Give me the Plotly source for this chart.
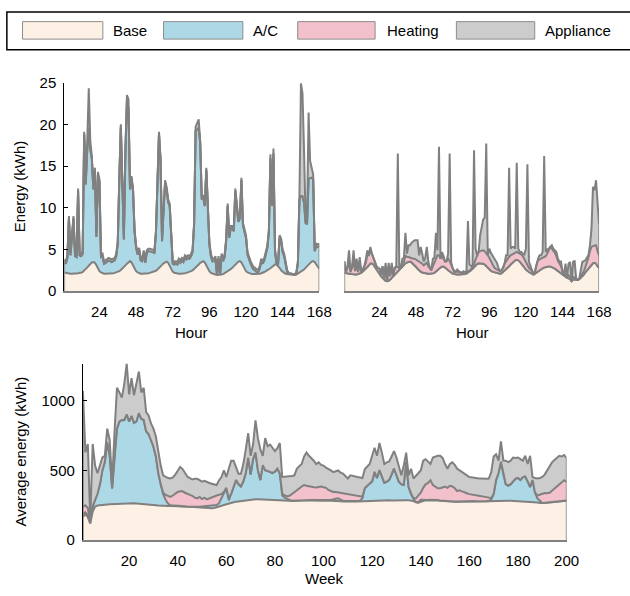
import plotly.graph_objects as go

# ---------------- data ----------------
hours = list(range(1, 169))
weeks = list(range(1, 201))

# Top-left (summer week): stacked levels
summer_base = [
    2.25, 2.2, 2.15, 2.15, 2.1, 2.1, 2.1, 2.1, 2.15, 2.15, 2.2, 2.2,
    2.3, 2.45, 2.65, 2.85, 3.05, 3.25, 3.45, 3.5, 3.4, 3.1, 2.7, 2.4,
    2.25, 2.15, 2.1, 2.1, 2.1, 2.1, 2.1, 2.15, 2.15, 2.2, 2.25, 2.3,
    2.4, 2.55, 2.7, 2.9, 3.1, 3.3, 3.5, 3.6, 3.45, 3.1, 2.7, 2.4,
    2.25, 2.15, 2.1, 2.1, 2.1, 2.1, 2.1, 2.15, 2.2, 2.25, 2.3, 2.35,
    2.45, 2.6, 2.75, 2.95, 3.15, 3.35, 3.5, 3.55, 3.4, 3.05, 2.65, 2.35,
    2.2, 2.15, 2.1, 2.1, 2.1, 2.1, 2.1, 2.15, 2.2, 2.25, 2.3, 2.4,
    2.5, 2.65, 2.8, 3.0, 3.2, 3.4, 3.55, 3.6, 3.45, 3.1, 2.7, 2.4,
    2.2, 2.1, 2.05, 2.0, 1.95, 1.95, 1.95, 2.0, 2.05, 2.15, 2.25, 2.35,
    2.5, 2.65, 2.8, 3.0, 3.2, 3.4, 3.55, 3.6, 3.45, 3.1, 2.7, 2.4,
    2.25, 2.15, 2.1, 2.05, 2.05, 2.05, 2.05, 2.1, 2.1, 2.15, 2.2, 2.3,
    2.4, 2.5, 2.6, 2.75, 2.9, 3.05, 3.2, 3.2, 3.05, 2.8, 2.5, 2.3,
    2.2, 2.1, 2.05, 2.0, 2.0, 2.0, 1.95, 1.95, 2.0, 2.1, 2.2, 2.3,
    2.45, 2.6, 2.8, 3.0, 3.2, 3.4, 3.55, 3.6, 3.5, 3.2, 2.9, 2.7,
]
summer_total = [
    3.8, 3.6, 4.3, 9.0, 4.6, 6.5, 9.0, 4.5, 4.4, 12.3, 4.6, 4.5,
    4.8, 19.1, 13.1, 17.9, 24.3, 18.0, 16.2, 12.5, 14.8, 6.8, 14.3, 13.4,
    4.4, 4.5, 3.6, 3.7, 3.9, 4.0, 3.9, 3.8, 3.9, 4.0, 4.5, 6.0,
    13.6, 20.0, 13.2, 6.5, 17.0, 23.5, 23.0, 12.5, 13.8, 12.3, 7.4, 5.5,
    4.7, 5.2, 4.0, 3.9, 4.9, 3.7, 4.9, 5.1, 5.1, 5.0, 4.9, 4.9,
    7.2, 14.0, 19.1, 16.0, 6.3, 10.0, 13.3, 12.5, 11.0, 10.5, 6.0, 3.6,
    3.5, 3.6, 3.5, 3.9, 3.7, 4.0, 3.8, 4.3, 4.1, 4.3, 4.2, 4.5,
    5.0, 8.2, 19.7, 20.2, 20.6, 18.0, 11.3, 11.5, 10.5, 14.8, 10.1, 5.9,
    4.5, 3.9, 3.9, 4.2, 2.0, 4.2, 2.0, 4.5, 3.9, 4.4, 6.3, 10.5,
    6.7, 7.8, 7.8, 7.5, 12.3, 10.5, 8.6, 9.0, 13.6, 8.2, 7.5, 6.7,
    4.7, 4.0, 3.6, 3.2, 2.9, 2.8, 2.6, 2.6, 3.0, 3.9, 3.6, 4.0,
    4.7, 5.5, 7.4, 16.4, 10.5, 17.1, 5.1, 3.3, 3.3, 6.7, 6.3, 5.0,
    4.5, 3.5, 2.5, 2.2, 2.1, 2.1, 2.0, 2.0, 2.3, 3.6, 11.3, 24.9,
    23.7, 17.1, 9.0, 8.6, 21.4, 15.6, 14.8, 14.0, 5.1, 5.7, 5.6, 5.7,
]
summer_appliance = [
    0.3, 0.3, 0.3, 0.3, 0.3, 0.3, 0.3, 0.3, 0.3, 0.3, 0.3, 0.3,
    0.3, 0.3, 0.3, 1.0, 4.8, 1.0, 0.3, 0.3, 0.3, 0.3, 0.3, 0.3,
    0.3, 0.3, 0.3, 0.3, 0.3, 0.3, 0.3, 0.3, 0.3, 0.3, 0.3, 0.3,
    0.3, 0.3, 0.3, 0.3, 0.3, 0.8, 1.0, 0.3, 0.3, 0.3, 0.3, 0.3,
    0.3, 0.3, 0.3, 0.3, 0.3, 0.3, 0.3, 0.3, 0.3, 0.3, 0.3, 0.3,
    0.3, 0.3, 0.3, 0.3, 0.3, 0.3, 0.3, 0.3, 0.3, 0.3, 0.3, 0.3,
    0.3, 0.3, 0.3, 0.3, 0.3, 0.3, 0.3, 0.3, 0.3, 0.3, 0.3, 0.3,
    0.3, 0.3, 0.5, 0.8, 1.0, 0.3, 0.3, 0.3, 0.3, 0.3, 0.3, 0.3,
    0.3, 0.3, 0.3, 0.3, 0.0, 0.3, 0.0, 0.3, 0.3, 0.3, 0.3, 0.3,
    0.3, 0.3, 0.3, 0.3, 0.3, 0.3, 0.3, 0.3, 0.3, 0.3, 0.3, 0.3,
    0.3, 0.3, 0.3, 0.3, 0.3, 0.3, 0.3, 0.3, 0.3, 0.3, 0.3, 0.3,
    0.3, 0.3, 0.3, 0.5, 0.3, 0.6, 0.3, 0.05, 0.1, 0.3, 0.3, 0.3,
    0.3, 0.3, 0.2, 0.1, 0.0, 0.0, 0.0, 0.0, 0.1, 0.3, 0.3, 13.5,
    12.3, 6.5, 0.8, 0.6, 7.9, 2.0, 1.2, 0.6, 0.3, 0.3, 0.3, 0.3,
]

# Top-right (winter week)
winter_base = [
    2.2, 2.15, 2.1, 2.1, 2.05, 2.05, 2.0, 2.0, 2.0, 2.05, 2.1, 2.2,
    2.35, 2.5, 2.7, 2.9, 3.1, 3.3, 3.35, 3.2, 2.9, 2.6, 2.3, 2.0,
    1.8, 1.6, 1.4, 1.25, 1.2, 1.25, 1.4, 1.6, 1.8, 2.0, 2.2, 2.4,
    2.6, 2.8, 3.0, 3.2, 3.35, 3.45, 3.55, 3.55, 3.45, 3.3, 3.1, 2.9,
    2.7, 2.5, 2.35, 2.25, 2.2, 2.15, 2.1, 2.1, 2.1, 2.1, 2.15, 2.2,
    2.3, 2.5, 2.7, 2.85, 2.95, 2.95, 2.85, 2.7, 2.5, 2.35, 2.2, 2.1,
    2.05, 2.0, 2.0, 2.0, 2.0, 2.0, 2.0, 2.05, 2.1, 2.2, 2.35, 2.5,
    2.7, 2.9, 3.1, 3.25, 3.35, 3.35, 3.35, 3.3, 3.2, 3.0, 2.8, 2.6,
    2.45, 2.35, 2.3, 2.25, 2.2, 2.1, 2.1, 2.15, 2.3, 2.45, 2.6, 2.8,
    3.0, 3.2, 3.4, 3.55, 3.7, 3.75, 3.7, 3.55, 3.35, 3.1, 2.85, 2.6,
    2.4, 2.3, 2.2, 2.1, 2.0, 2.1, 2.25, 2.4, 2.55, 2.65, 2.75, 2.85,
    2.9, 2.95, 2.95, 2.95, 2.9, 2.8, 2.7, 2.55, 2.4, 2.25, 2.1, 2.0,
    1.85, 1.7, 1.6, 1.55, 1.45, 1.2, 1.4, 1.4, 1.35, 1.35, 1.45, 1.6,
    1.8, 2.0, 2.25, 2.5, 2.75, 3.0, 3.2, 3.35, 3.4, 3.3, 3.0, 2.8,
]
winter_heat_top = [
    2.8, 2.3, 2.8, 3.5, 2.3, 2.8, 3.6, 2.4, 3.2, 2.3, 3.4, 2.4,
    2.5, 2.9, 3.4, 4.3, 4.3, 4.8, 4.5, 4.0, 3.4, 3.0, 2.8, 2.7,
    2.0, 3.0, 1.4, 3.0, 1.2, 3.0, 1.8, 3.0, 1.9, 2.8, 2.9, 2.9,
    2.8, 2.8, 3.3, 3.5, 4.3, 4.1, 4.1, 4.0, 3.9, 3.9, 3.9, 3.8,
    3.7, 3.5, 3.4, 3.3, 3.1, 3.2, 3.4, 3.0, 2.7, 2.5, 3.0, 3.5,
    4.0, 4.3, 4.3, 3.9, 4.2, 3.9, 3.55, 3.6, 3.9, 3.6, 3.2, 2.6,
    2.3, 2.3, 2.4, 2.3, 2.2, 2.2, 2.3, 2.2, 2.3, 2.4, 2.6, 2.6,
    2.9, 3.2, 3.8, 4.2, 4.7, 4.8, 4.9, 4.9, 4.8, 4.6, 4.3, 4.0,
    3.6, 3.2, 2.9, 2.7, 2.6, 2.6, 2.4, 2.5, 2.8, 3.3, 3.6, 3.9,
    4.1, 4.3, 4.4, 4.5, 4.6, 4.7, 4.6, 4.5, 4.4, 4.2, 3.8, 3.4,
    3.1, 2.8, 2.6, 2.4, 2.0, 2.4, 3.2, 3.7, 3.8, 3.9, 3.9, 4.0,
    4.2, 4.5, 4.9, 5.3, 5.1, 4.9, 4.6, 4.2, 3.6, 3.35, 3.0, 2.4,
    2.0, 2.0, 1.7, 1.9, 1.7, 1.2, 1.7, 1.6, 1.4, 1.4, 1.5, 1.8,
    2.1, 2.4, 2.9, 3.4, 4.0, 4.8, 5.3, 5.4, 5.5, 5.5, 4.8, 4.3,
]
winter_total = [
    3.6, 2.4, 3.0, 4.9, 2.4, 3.0, 4.9, 2.5, 3.9, 2.4, 4.1, 2.5,
    2.6, 3.0, 3.8, 4.9, 4.3, 5.3, 4.5, 4.0, 3.4, 3.0, 2.8, 2.7,
    2.0, 3.0, 1.4, 3.4, 1.2, 3.4, 1.8, 3.4, 1.9, 2.8, 3.0, 16.5,
    2.8, 2.8, 3.9, 4.0, 7.0, 4.5, 5.5, 5.5, 5.8, 6.0, 6.1, 6.1,
    6.1, 4.3, 5.3, 4.5, 3.55, 4.0, 5.3, 3.55, 2.8, 2.6, 3.9, 4.0,
    7.0, 4.9, 17.3, 3.9, 4.7, 4.2, 3.55, 3.6, 4.5, 16.5, 3.4, 2.8,
    2.4, 2.4, 2.6, 2.4, 2.3, 2.2, 2.4, 2.3, 2.4, 8.4, 3.2, 3.0,
    2.9, 16.9, 5.1, 4.3, 4.7, 6.7, 7.5, 8.6, 8.8, 17.7, 4.3, 5.1,
    4.6, 4.3, 4.1, 3.7, 3.4, 2.8, 2.4, 2.5, 2.8, 3.3, 4.3, 4.3,
    14.8, 5.1, 5.3, 5.3, 5.1, 15.4, 5.1, 4.7, 4.7, 4.5, 4.4, 5.1,
    15.2, 3.55, 3.0, 2.6, 2.0, 2.4, 3.2, 3.9, 4.3, 4.3, 4.7, 16.2,
    4.7, 5.0, 5.1, 5.3, 5.5, 5.1, 4.9, 4.7, 3.9, 3.55, 3.55, 2.4,
    2.0, 3.3, 1.7, 3.3, 3.5, 1.2, 3.55, 3.6, 1.4, 1.4, 1.5, 2.5,
    3.5, 3.6, 3.7, 4.0, 4.3, 5.5, 7.4, 12.5, 12.1, 13.3, 10.5, 8.0,
]

# Bottom (weekly averages): stacked levels
week_base = [
    167, 186, 165, 118, 205, 240, 248, 251, 253, 255,
    256, 257, 258, 259, 260, 261, 262, 264, 266, 267,
    266, 265, 263, 262, 260, 258, 256, 255, 253, 252,
    250, 248, 246, 245, 244, 244, 244, 245, 244, 243,
    242, 242, 241, 240, 239, 238, 237, 235, 233, 232,
    230, 229, 228, 228, 230, 234, 240, 246, 252, 258,
    264, 268, 272, 275, 278, 281, 284, 286, 288, 290,
    292, 294, 293, 292, 291, 290, 290, 289, 288, 287,
    285, 283, 280, 279, 279, 278, 279, 280, 282, 284,
    285, 286, 286, 285, 284, 283, 284, 285, 284, 283,
    284, 284, 283, 282, 281, 280, 279, 278, 277, 276,
    275, 276, 277, 278, 279, 280, 281, 282, 283, 284,
    285, 286, 286, 287, 287, 286, 286, 285, 286, 286,
    287, 286, 285, 286, 286, 285, 280, 272, 268, 275,
    282, 285, 286, 287, 288, 287, 285, 283, 281, 280,
    279, 278, 277, 276, 276, 277, 278, 279, 280, 280,
    279, 278, 277, 276, 276, 277, 278, 279, 280, 281,
    281, 282, 282, 283, 283, 282, 282, 281, 281, 280,
    280, 279, 279, 278, 277, 276, 274, 270, 266, 265,
    266, 268, 270, 272, 274, 276, 278, 280, 282, 283,
]
week_ac_top = [
    190, 200, 180, 125, 235, 290, 330, 400, 500, 560,
    700, 610, 370, 600, 800, 850, 860, 860, 900, 850,
    890, 840, 850, 910, 870, 860, 780, 760, 720, 670,
    600, 480, 400, 330, 290, 262, 250, 248, 246, 245,
    244, 244, 243, 242, 241, 240, 239, 240, 240, 242,
    244, 246, 248, 250, 248, 252, 265, 300, 340, 372,
    285, 330, 380, 430, 400, 384, 420, 480, 590, 470,
    580, 628, 500, 430, 535, 500, 495, 488, 480, 490,
    512, 477, 320, 305, 295, 288, 282, 283, 285, 288,
    289, 290, 290, 289, 288, 287, 288, 289, 288, 287,
    288, 288, 288, 290, 297, 300, 290, 282, 280, 279,
    278, 279, 280, 281, 283, 300, 372, 390, 405, 420,
    488, 445, 500, 455, 410, 418, 430, 470, 512, 465,
    418, 400, 395, 560, 380, 330, 295, 275, 270, 290,
    288, 287, 288, 289, 290, 289, 287, 285, 283, 282,
    281, 280, 279, 278, 278, 279, 280, 281, 282, 282,
    281, 280, 279, 278, 278, 279, 280, 281, 290, 330,
    430, 480, 560, 470, 400, 390, 400, 420, 440, 445,
    430, 450, 455, 420, 380, 430, 340, 300, 280, 267,
    268, 270, 272, 274, 276, 278, 280, 282, 284, 285,
]
week_heat_top = [
    240, 250, 230, 140, 245, 295, 332, 402, 502, 562,
    702, 612, 372, 602, 802, 852, 862, 862, 902, 852,
    892, 842, 852, 912, 872, 862, 782, 762, 722, 672,
    602, 482, 402, 340, 325, 315, 310, 320, 335, 345,
    350, 350, 340, 330, 325, 318, 305, 300, 310, 295,
    305, 292, 300, 305, 312, 320, 325, 330, 345, 375,
    300, 332, 382, 432, 402, 386, 422, 482, 592, 472,
    582, 630, 502, 432, 537, 502, 497, 490, 482, 492,
    514, 479, 335, 320, 315, 318, 330, 340, 355, 370,
    385, 395, 390, 385, 384, 380, 378, 382, 384, 380,
    375, 360, 350, 345, 345, 342, 338, 335, 330, 328,
    326, 325, 322, 318, 315, 312, 374, 392, 407, 422,
    490, 447, 502, 457, 412, 420, 432, 472, 514, 467,
    420, 402, 397, 562, 382, 335, 300, 300, 320, 340,
    375, 400, 410, 430, 395, 380, 372, 372, 378, 384,
    375, 390, 385, 372, 352, 358, 350, 340, 336, 330,
    326, 322, 318, 316, 315, 312, 310, 305, 300, 332,
    432, 482, 562, 472, 402, 392, 402, 422, 442, 447,
    432, 452, 457, 422, 382, 432, 342, 320, 325, 335,
    338, 337, 340, 355, 370, 390, 405, 420, 430, 418,
]
week_total = [
    1070, 630, 690, 145, 690, 535, 480, 535, 593, 605,
    800, 720, 410, 780, 1093, 1060, 1023, 1120, 1267, 1046,
    1162, 1040, 1116, 1209, 1060, 1093, 918, 895, 837, 800,
    744, 628, 535, 465, 453, 445, 442, 450, 470, 495,
    525, 510, 480, 455, 445, 435, 440, 440, 430, 420,
    425, 415, 410, 405, 400, 395, 430, 453, 500, 453,
    512, 570, 570, 520, 477, 477, 546, 651, 767, 605,
    686, 860, 732, 651, 605, 732, 674, 686, 663, 639,
    660, 697, 453, 455, 455, 455, 460, 465, 512, 530,
    546, 600, 628, 605, 590, 570, 546, 558, 540, 535,
    520, 512, 500, 488, 495, 500, 485, 477, 460, 442,
    465, 460, 453, 453, 450, 446, 510, 530, 546, 605,
    663, 605, 697, 628, 546, 558, 565, 600, 639, 593,
    535, 465, 535, 628, 465, 512, 442, 465, 480, 500,
    570, 581, 560, 546, 593, 600, 605, 605, 590, 546,
    512, 546, 558, 540, 512, 500, 490, 477, 465, 453,
    450, 445, 442, 442, 442, 440, 440, 442, 488, 600,
    616, 570, 709, 570, 570, 560, 570, 593, 590, 593,
    580, 570, 605, 546, 605, 453, 445, 442, 445, 453,
    470, 500, 520, 558, 575, 590, 605, 600, 610, 590,
]

legend_labels = ["Base", "A/C", "Heating", "Appliance"]
hour_ticks = [24, 48, 72, 96, 120, 144, 168]
energy_ticks = [0, 5, 10, 15, 20, 25]
week_ticks = [20, 40, 60, 80, 100, 120, 140, 160, 180, 200]
avg_ticks = [0, 500, 1000]

for arr in (summer_base, summer_total, summer_appliance, winter_base,
            winter_heat_top, winter_total):
    assert len(arr) == 168, len(arr)
for arr in (week_base, week_ac_top, week_heat_top, week_total):
    assert len(arr) == 200, len(arr)

# ---------------- styling ----------------
COLORS = ["#FDF1E5", "#ADD8E6", "#F2C1CB", "#CCCCCC"]
EDGE = "#808080"
FONT = "Liberation Sans, Arial, Helvetica, sans-serif"
W, H = 630, 596


def fx(p):
    return p / W


def fy(p):
    return 1 - p / H


def monotone(levels):
    out = [list(levels[0])]
    for lvl in levels[1:]:
        out.append([max(a, b) for a, b in zip(lvl, out[-1])])
    return out


summer_ac_top = [max(t - a, b) for t, a, b in zip(summer_total, summer_appliance, summer_base)]
summer_levels = monotone([summer_base, summer_ac_top, summer_ac_top, summer_total])
winter_levels = monotone([winter_base, winter_base, winter_heat_top, winter_total])
week_levels = monotone([week_base, week_ac_top, week_heat_top, week_total])

fig = go.Figure()


def add_panel(x, levels, xa, ya):
    for i, (lvl, col) in enumerate(zip(levels, COLORS)):
        fig.add_trace(go.Scatter(
            x=x, y=lvl, mode="lines", name=legend_labels[i],
            line=dict(color=EDGE, width=2),
            fill="tozeroy" if i == 0 else "tonexty", fillcolor=col,
            xaxis=xa, yaxis=ya, hoverinfo="skip", showlegend=False))
    top = levels[-1]
    fig.add_trace(go.Scatter(
        x=[x[0], x[0], None, x[-1], x[-1]], y=[0, top[0], None, 0, top[-1]],
        mode="lines", line=dict(color=EDGE, width=1.5),
        xaxis=xa, yaxis=ya, hoverinfo="skip", showlegend=False))


add_panel(hours, summer_levels, "x", "y")
add_panel(hours, winter_levels, "x2", "y2")
add_panel(weeks, week_levels, "x3", "y3")

tickfont = dict(family=FONT, size=15, color="black")
xcommon = dict(showgrid=False, zeroline=False, ticks="", showline=True,
               linecolor=EDGE, linewidth=1.5, tickfont=tickfont,
               ticklabelstandoff=6)
ycommon = dict(showgrid=False, zeroline=False, tickfont=tickfont)

fig.update_layout(
    width=W, height=H, autosize=False,
    margin=dict(l=0, r=0, t=0, b=0),
    paper_bgcolor="white", plot_bgcolor="white",
    showlegend=False,
    font=dict(family=FONT, size=15, color="black"),
    xaxis=dict(domain=[fx(65.7), fx(326)], range=[1, 168], tickvals=hour_ticks,
               anchor="y", **xcommon),
    yaxis=dict(domain=[fy(290.5), fy(75.7)], range=[0, 25], tickvals=energy_ticks,
               anchor="x", ticks="inside", ticklen=4, tickcolor="black",
               showline=True, linecolor="black", linewidth=1.2,
               ticklabelstandoff=4, **ycommon),
    xaxis2=dict(domain=[fx(351.7), fx(611.7)], range=[1, 168], tickvals=hour_ticks,
                anchor="y2", **xcommon),
    yaxis2=dict(domain=[fy(290.5), fy(75.7)], range=[0, 25], anchor="x2",
                showticklabels=False, showline=False, ticks="", **ycommon),
    xaxis3=dict(domain=[fx(84.7), fx(578.5)], range=[1, 200], tickvals=week_ticks,
                anchor="y3", **xcommon),
    yaxis3=dict(domain=[fy(546.7), fy(365)], range=[0, 1267], tickvals=avg_ticks,
                anchor="x3", ticks="inside", ticklen=4, tickcolor="black",
                showline=True, linecolor="black", linewidth=1.2,
                ticklabelstandoff=4, **ycommon),
)

annotations = []


def text(x, y, s, angle=0, anchor="center"):
    annotations.append(dict(
        x=fx(x), y=fy(y), xref="paper", yref="paper", text=s, showarrow=False,
        textangle=angle, xanchor=anchor, yanchor="middle",
        font=dict(family=FONT, size=15, color="black")))


text(20, 183, "Energy (kWh)", angle=-90)
text(196, 333, "Hour")
text(482, 333, "Hour")
text(331, 586, "Week")
text(21, 456, "Average energy (kWh)", angle=-90)

# legend box
shapes = [dict(type="rect", xref="paper", yref="paper",
               x0=fx(7), x1=fx(660), y0=fy(42), y1=fy(3),
               line=dict(color="black", width=1.5), fillcolor="rgba(0,0,0,0)")]
swatch_x = [(23, 105), (167, 248), (304, 383), (466, 546)]
label_x = [113, 256, 393, 554]
for (x0, x1), lx, col, lab in zip(swatch_x, label_x, COLORS, legend_labels):
    shapes.append(dict(type="rect", xref="paper", yref="paper",
                       x0=fx(x0), x1=fx(x1), y0=fy(31), y1=fy(13),
                       line=dict(color="#8c8c8c", width=1), fillcolor=col))
    text(lx, 22.5, lab, anchor="left")

fig.update_layout(annotations=annotations, shapes=shapes)

fig.write_html("out.html", include_plotlyjs=True, full_html=True,
               config={"displayModeBar": False},
               post_script="document.body.style.margin='0';")
